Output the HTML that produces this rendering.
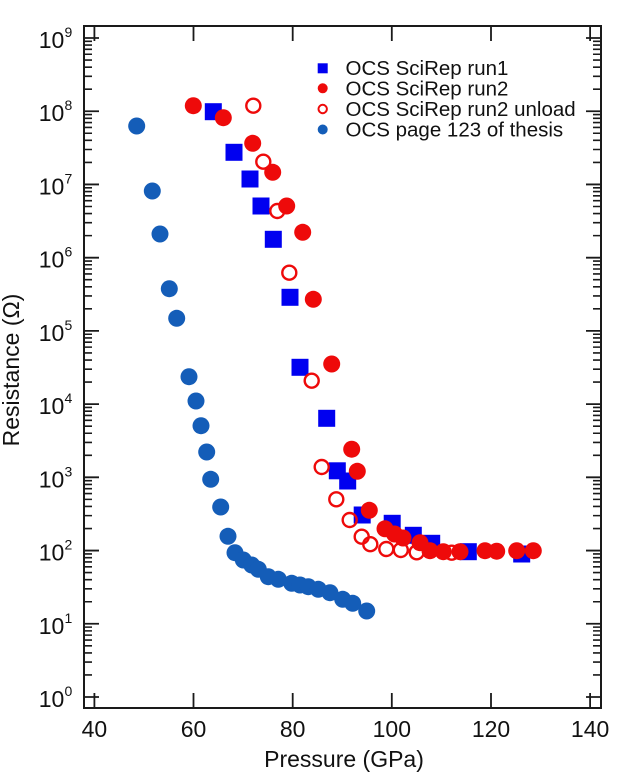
<!DOCTYPE html>
<html><head><meta charset="utf-8"><style>
html,body{margin:0;padding:0;background:#fff;}
svg{display:block;}
text{font-family:"Liberation Sans",Arial,sans-serif;fill:#111;}
</style></head><body>
<svg width="618" height="781" viewBox="0 0 618 781" xmlns="http://www.w3.org/2000/svg">
<defs>
<path id="mt" d="M0 674.96h8M0 662.06h8M0 652.92h8M0 645.82h8M0 640.02h8M0 635.12h8M0 630.87h8M0 627.13h8
M0 601.74h8M0 588.84h8M0 579.70h8M0 572.60h8M0 566.80h8M0 561.90h8M0 557.65h8M0 553.91h8
M0 528.52h8M0 515.62h8M0 506.48h8M0 499.38h8M0 493.58h8M0 488.68h8M0 484.43h8M0 480.69h8
M0 455.29h8M0 442.39h8M0 433.25h8M0 426.15h8M0 420.35h8M0 415.45h8M0 411.20h8M0 407.46h8
M0 382.07h8M0 369.17h8M0 360.03h8M0 352.93h8M0 347.13h8M0 342.23h8M0 337.98h8M0 334.24h8
M0 308.85h8M0 295.95h8M0 286.81h8M0 279.71h8M0 273.91h8M0 269.01h8M0 264.76h8M0 261.02h8
M0 235.63h8M0 222.73h8M0 213.59h8M0 206.49h8M0 200.69h8M0 195.79h8M0 191.54h8M0 187.80h8
M0 162.40h8M0 149.50h8M0 140.36h8M0 133.26h8M0 127.46h8M0 122.56h8M0 118.31h8M0 114.57h8
M0 89.18h8M0 76.28h8M0 67.14h8M0 60.04h8M0 54.24h8M0 49.34h8M0 45.09h8M0 41.35h8" stroke="#1a1a1a" stroke-width="1.6" fill="none"/>
<path id="Mt" d="M0 697h15M0 623.78h15M0 550.56h15M0 477.33h15M0 404.11h15M0 330.89h15M0 257.67h15M0 184.44h15M0 111.22h15M0 38h15" stroke="#1a1a1a" stroke-width="1.8" fill="none"/>
</defs>

<!-- frame -->
<rect x="84" y="26" width="517" height="682" fill="none" stroke="#1a1a1a" stroke-width="2"/>
<use href="#mt" x="84"/>
<use href="#Mt" x="84"/>
<g transform="translate(601,0) scale(-1,1)"><use href="#mt"/><use href="#Mt"/></g>
<!-- x ticks -->
<path d="M94.4 26v15M193.5 26v15M292.7 26v15M391.8 26v15M491 26v15M590.1 26v15
M94.4 708v-15M193.5 708v-15M292.7 708v-15M391.8 708v-15M491 708v-15M590.1 708v-15" stroke="#1a1a1a" stroke-width="1.8" fill="none"/>

<!-- x tick labels -->
<g font-size="23" text-anchor="middle">
<text x="94.4" y="737">40</text>
<text x="193.5" y="737">60</text>
<text x="292.7" y="737">80</text>
<text x="391.8" y="737">100</text>
<text x="491" y="737">120</text>
<text x="590.1" y="737">140</text>
</g>
<!-- y tick labels -->
<g font-size="23" text-anchor="end">
<text x="64.3" y="707">10</text>
<text x="64.3" y="633.8">10</text>
<text x="64.3" y="560.6">10</text>
<text x="64.3" y="487.3">10</text>
<text x="64.3" y="414.1">10</text>
<text x="64.3" y="340.9">10</text>
<text x="64.3" y="267.7">10</text>
<text x="64.3" y="194.4">10</text>
<text x="64.3" y="121.2">10</text>
<text x="64.3" y="48">10</text>
</g>
<g font-size="14">
<text x="64.5" y="696">0</text>
<text x="64.5" y="622.8">1</text>
<text x="64.5" y="549.6">2</text>
<text x="64.5" y="476.3">3</text>
<text x="64.5" y="403.1">4</text>
<text x="64.5" y="329.9">5</text>
<text x="64.5" y="256.7">6</text>
<text x="64.5" y="183.4">7</text>
<text x="64.5" y="110.2">8</text>
<text x="64.5" y="37">9</text>
</g>

<!-- axis titles -->
<text x="344" y="767" font-size="23" text-anchor="middle">Pressure (GPa)</text>
<text transform="translate(19,370) rotate(-90)" font-size="23" text-anchor="middle">Resistance (Ω)</text>

<!-- thesis series -->
<g fill="#145db8">
<circle cx="136.7" cy="126" r="8.5"/>
<circle cx="152.3" cy="191" r="8.5"/>
<circle cx="160" cy="234" r="8.5"/>
<circle cx="169.3" cy="288.7" r="8.5"/>
<circle cx="176.7" cy="318.3" r="8.5"/>
<circle cx="189" cy="376.7" r="8.5"/>
<circle cx="196" cy="401" r="8.5"/>
<circle cx="201" cy="425.7" r="8.5"/>
<circle cx="206.7" cy="452" r="8.5"/>
<circle cx="210.7" cy="479.3" r="8.5"/>
<circle cx="220.7" cy="507" r="8.5"/>
<circle cx="228" cy="536.3" r="8.5"/>
<circle cx="235" cy="552.7" r="8.5"/>
<circle cx="243.3" cy="560" r="8.5"/>
<circle cx="251.7" cy="565" r="8.5"/>
<circle cx="258.3" cy="569.3" r="8.5"/>
<circle cx="268.3" cy="576.7" r="8.5"/>
<circle cx="278.3" cy="579.3" r="8.5"/>
<circle cx="291.7" cy="583.3" r="8.5"/>
<circle cx="300" cy="585" r="8.5"/>
<circle cx="308.3" cy="586.7" r="8.5"/>
<circle cx="318.3" cy="589.3" r="8.5"/>
<circle cx="330" cy="592.7" r="8.5"/>
<circle cx="342.7" cy="599.3" r="8.5"/>
<circle cx="352.7" cy="603.3" r="8.5"/>
<circle cx="366.7" cy="611" r="8.5"/>
</g>

<!-- run1 squares -->
<g fill="#0000f0">
<rect x="204.8" y="103.2" width="17" height="17"/>
<rect x="225.5" y="143.8" width="17" height="17"/>
<rect x="241.5" y="170.5" width="17" height="17"/>
<rect x="252.5" y="197.5" width="17" height="17"/>
<rect x="264.8" y="230.8" width="17" height="17"/>
<rect x="281.5" y="288.8" width="17" height="17"/>
<rect x="291.5" y="358.8" width="17" height="17"/>
<rect x="318.2" y="409.8" width="17" height="17"/>
<rect x="328.8" y="462.3" width="17" height="17"/>
<rect x="339.2" y="472.5" width="17" height="17"/>
<rect x="353.7" y="506.5" width="17" height="17"/>
<rect x="383.7" y="514.8" width="17" height="17"/>
<rect x="404.8" y="526.8" width="17" height="17"/>
<rect x="423.2" y="534.8" width="17" height="17"/>
<rect x="459.8" y="543.2" width="17" height="17"/>
<rect x="513.2" y="545.5" width="17" height="17"/>
</g>

<!-- run2 unload open circles -->
<g fill="none" stroke="#ee0a0a" stroke-width="2.4">
<circle cx="253.3" cy="105.7" r="7"/>
<circle cx="263.3" cy="161.7" r="7"/>
<circle cx="277.3" cy="211" r="7"/>
<circle cx="289.3" cy="272.7" r="7"/>
<circle cx="311.7" cy="380.7" r="7"/>
<circle cx="321.7" cy="467" r="7"/>
<circle cx="336.3" cy="499.3" r="7"/>
<circle cx="349.7" cy="520" r="7"/>
<circle cx="361.7" cy="536.7" r="7"/>
<circle cx="370.3" cy="544.2" r="7"/>
<circle cx="386.3" cy="549" r="7"/>
<circle cx="400.8" cy="550" r="7"/>
<circle cx="416.7" cy="552.3" r="7"/>
<circle cx="451.7" cy="552.7" r="7"/>
</g>

<!-- run2 filled red -->
<g fill="#ee0a0a">
<circle cx="193.3" cy="105.7" r="8.5"/>
<circle cx="223.3" cy="117.7" r="8.5"/>
<circle cx="252.7" cy="143.3" r="8.5"/>
<circle cx="272.7" cy="172.3" r="8.5"/>
<circle cx="286.7" cy="206" r="8.5"/>
<circle cx="302.7" cy="232.3" r="8.5"/>
<circle cx="313.3" cy="299.3" r="8.5"/>
<circle cx="331.7" cy="364" r="8.5"/>
<circle cx="351.7" cy="449.2" r="8.5"/>
<circle cx="357.3" cy="471.3" r="8.5"/>
<circle cx="369.3" cy="510.3" r="8.5"/>
<circle cx="385" cy="528.8" r="8.5"/>
<circle cx="394.5" cy="534" r="8.5"/>
<circle cx="403" cy="538" r="8.5"/>
<circle cx="420" cy="542.7" r="8.5"/>
<circle cx="430" cy="550.7" r="8.5"/>
<circle cx="443.3" cy="551.7" r="8.5"/>
<circle cx="460" cy="551.7" r="8.5"/>
<circle cx="485" cy="550.7" r="8.5"/>
<circle cx="496.7" cy="551.2" r="8.5"/>
<circle cx="516.7" cy="550.7" r="8.5"/>
<circle cx="533.3" cy="550.7" r="8.5"/>
</g>

<!-- legend -->
<rect x="317.7" y="63.3" width="10" height="10" fill="#0000f0"/>
<circle cx="322.7" cy="88.3" r="5" fill="#ee0a0a"/>
<circle cx="322.7" cy="109" r="4.2" fill="none" stroke="#ee0a0a" stroke-width="2"/>
<circle cx="322.7" cy="129.5" r="5" fill="#145db8"/>
<g font-size="20.5">
<text x="345.5" y="75">OCS SciRep run1</text>
<text x="345.5" y="95.5">OCS SciRep run2</text>
<text x="345.5" y="116">OCS SciRep run2 unload</text>
<text x="345.5" y="136.5">OCS page 123 of thesis</text>
</g>
</svg>
</body></html>
